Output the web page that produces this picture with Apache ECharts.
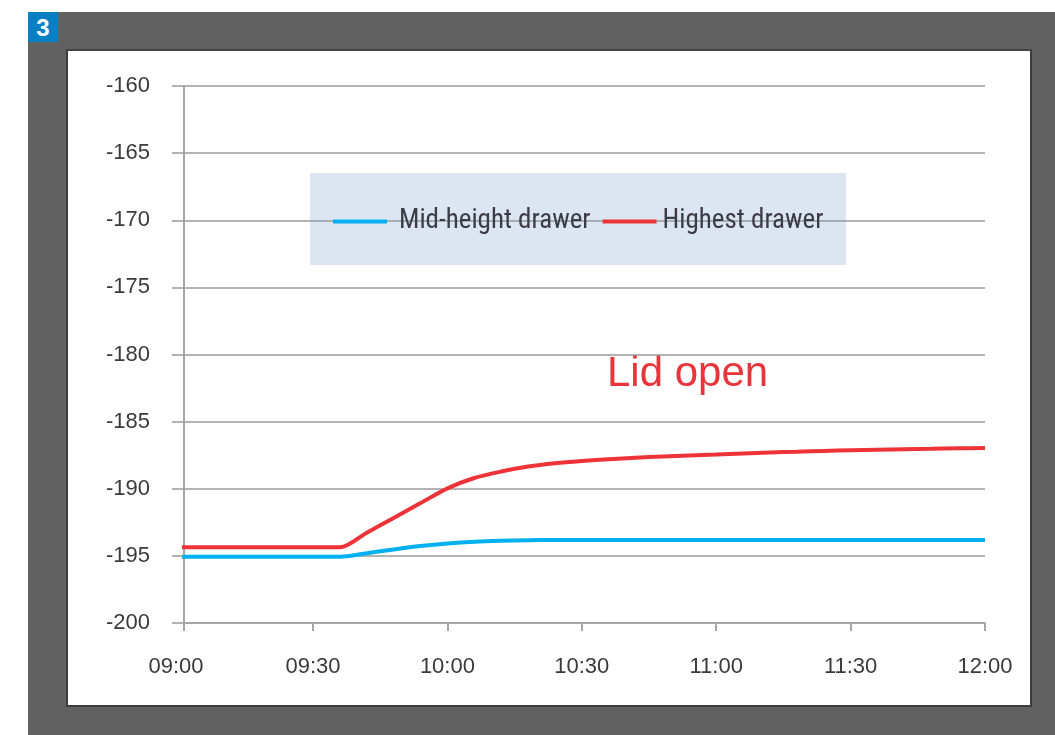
<!DOCTYPE html>
<html>
<head>
<meta charset="utf-8">
<script src="https://cdn.jsdelivr.net/npm/echarts@6/dist/echarts.min.js"></script>
<style>
html,body{margin:0;padding:0;background:#fff;width:1055px;height:735px;overflow:hidden;}
#frame{position:absolute;left:28px;top:12px;width:1027px;height:723px;background:#616161;}
#badge{position:absolute;left:28px;top:12px;width:30px;height:30px;background:#0a80c4;color:#fff;font:bold 24px "Liberation Sans",Arial,sans-serif;text-align:center;line-height:31px;}
#panel{position:absolute;left:66px;top:49px;width:962px;height:654px;background:#fff;border:2px solid #3c3c3c;border-top-color:#444;}
#chart{position:absolute;left:0;top:0;width:1055px;height:735px;}
</style>
</head>
<body>
<div id="frame"></div>
<div id="badge">3</div>
<div id="panel"></div>
<div id="chart"></div>
<script>
// x values are minutes after 09:00
var xTickValues = [1.2, 30, 60, 90, 120, 150, 180];
var xTickLabels = ['09:00','09:30','10:00','10:30','11:00','11:30','12:00'];
var sampleTimes = [0, 6, 12, 18, 24, 30, 36, 42, 48, 54, 60, 66, 72, 78, 84, 90, 96, 102, 108, 114, 120, 126, 132, 138, 144, 150, 156, 162, 168, 174, 180];
var midValues = [-195.06, -195.06, -195.06, -195.06, -195.06, -195.06, -195.06, -194.8, -194.52, -194.27, -194.08, -193.95, -193.88, -193.84, -193.82, -193.82, -193.82, -193.82, -193.82, -193.82, -193.82, -193.82, -193.82, -193.82, -193.82, -193.82, -193.82, -193.82, -193.82, -193.82, -193.82];
var highValues = [-194.36, -194.36, -194.36, -194.36, -194.36, -194.36, -194.36, -193.27, -192.17, -191.07, -189.97, -189.2, -188.72, -188.35, -188.1, -187.93, -187.8, -187.69, -187.6, -187.52, -187.45, -187.37, -187.3, -187.24, -187.18, -187.13, -187.09, -187.05, -187.02, -186.99, -186.97];
var seriesNames = ['Mid-height drawer', 'Highest drawer'];
var annotationText = 'Lid open';

function pairs(xs, ys){ return xs.map(function(x,i){ return [x, ys[i]]; }); }

var chart = echarts.init(document.getElementById('chart'));
var labelFont = '"Liberation Sans", Arial, sans-serif';
chart.setOption({
  animation: false,
  grid: { left: 184, right: 70, top: 86, bottom: 112, containLabel: false },
  graphic: [
    { type: 'rect', left: 310, top: 173, shape: { width: 536, height: 92 }, style: { fill: '#dce6f2' }, z: -1 },
    { type: 'text', left: 607, top: 353, style: { text: annotationText, fill: '#e8353b', font: '42px ' + labelFont } }
  ],
  legend: {
    left: 328, top: 203,
    icon: 'rect', itemWidth: 54, itemHeight: 4, itemGap: 12,
    textStyle: { fontSize: 27, color: '#3c3c44', fontFamily: '"Liberation Sans Narrow","Roboto Condensed","DejaVu Sans Condensed",sans-serif', padding: [0,0,0,7] },
    data: [
      { name: seriesNames[0] },
      { name: seriesNames[1], textStyle: { padding: [0,0,0,1] } }
    ]
  },
  xAxis: {
    type: 'value', min: xTickValues[0], max: 180,
    axisLine: { show: true, lineStyle: { color: '#a6a6a6', width: 2 } },
    axisTick: { show: true, length: 8, customValues: xTickValues, lineStyle: { color: '#a6a6a6', width: 2 } },
    splitLine: { show: false },
    axisLabel: { margin: 33, fontSize: 22, color: '#3a3a3a', fontFamily: labelFont,
      customValues: xTickValues,
      formatter: function(v){
        var i = xTickValues.indexOf(v);
        return i === 0 ? '{f|' + xTickLabels[0] + '}' : xTickLabels[i];
      },
      rich: { f: { fontSize: 22, color: '#3a3a3a', fontFamily: labelFont, padding: [0, 16, 0, 0] } }
    }
  },
  yAxis: {
    type: 'value', min: -200, max: -160, interval: 5,
    axisLine: { show: true, lineStyle: { color: '#a6a6a6', width: 2 } },
    axisTick: { show: true, length: 12, lineStyle: { color: '#9a9a9a', width: 1.5 } },
    splitLine: { show: true, lineStyle: { color: '#9a9a9a', width: 1.5 } },
    axisLabel: { margin: 34, fontSize: 22, color: '#3a3a3a', fontFamily: labelFont }
  },
  series: [
    { name: seriesNames[0], type: 'line', data: pairs(sampleTimes, midValues), smooth: 0.3, showSymbol: false,
      lineStyle: { color: '#00b0f0', width: 4 }, itemStyle: { color: '#00b0f0' } },
    { name: seriesNames[1], type: 'line', data: pairs(sampleTimes, highValues), smooth: 0.3, showSymbol: false,
      lineStyle: { color: '#ee3338', width: 4 }, itemStyle: { color: '#ee3338' } }
  ]
});
</script>
</body>
</html>
